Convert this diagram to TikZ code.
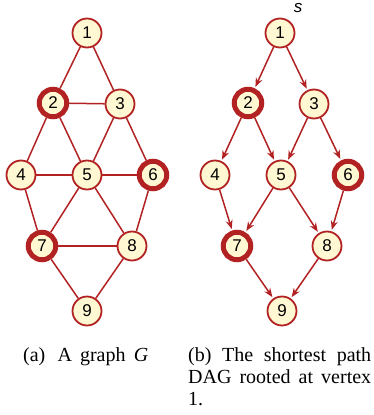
\documentclass[tikz,border=0pt]{standalone}
\usepackage{fontspec}
\setmainfont{Liberation Sans}
\newfontfamily\capfont{Liberation Serif}
\usetikzlibrary{arrows.meta}
\definecolor{ring}{RGB}{178,34,34}
\definecolor{cream}{RGB}{255,248,210}
\begin{document}
\begin{tikzpicture}[x=1pt,y=-1pt,
  vtx/.style={circle,draw=ring,fill=cream,line width=1.8pt,minimum size=29pt,inner sep=0pt,font=\fontsize{17}{17}\selectfont},
  bold/.style={vtx,line width=5pt,minimum size=27.5pt},
  edge/.style={draw=ring,line width=1.5pt},
  arc/.style={edge,-{Stealth[length=9pt,width=7pt]},shorten >=1.5pt},
  captext/.style={font=\capfont\fontsize{20}{22}\selectfont,inner sep=0pt,anchor=base west}]
\useasboundingbox (0,0) rectangle (373,415);
% left graph
\node[vtx]  (a1) at (87,33) {1};
\node[bold] (a2) at (53,103) {2};
\node[vtx]  (a3) at (120,104) {3};
\node[vtx]  (a4) at (21,175) {4};
\node[vtx]  (a5) at (87,175) {5};
\node[bold] (a6) at (153,175) {6};
\node[bold] (a7) at (42,246) {7};
\node[vtx]  (a8) at (132,246) {8};
\node[vtx]  (a9) at (87,311) {9};
\foreach \u/\v in {a1/a2,a1/a3,a2/a3,a2/a4,a2/a5,a3/a5,a3/a6,a4/a5,a5/a6,a4/a7,a5/a7,a5/a8,a6/a8,a7/a8,a7/a9,a8/a9}
  \draw[edge] (\u) -- (\v);
% right graph
\node[vtx]  (b1) at (280,33) {1};
\node[bold] (b2) at (248,103) {2};
\node[vtx]  (b3) at (314,104) {3};
\node[vtx]  (b4) at (215,175) {4};
\node[vtx]  (b5) at (281,175) {5};
\node[bold] (b6) at (348,175) {6};
\node[bold] (b7) at (237,246) {7};
\node[vtx]  (b8) at (327,246) {8};
\node[vtx]  (b9) at (282,311) {9};
\node[font=\fontsize{17}{17}\selectfont\itshape,inner sep=0pt] (s) at (298,8) {s};
\foreach \u/\v in {b1/b2,b1/b3,b2/b4,b2/b5,b3/b5,b3/b6,b4/b7,b5/b7,b5/b8,b6/b8,b7/b9,b8/b9}
  \draw[arc] (\u) -- (\v);
% captions
\node[captext] (ca) at (23,361) {\makebox[125pt][s]{(a)\hspace{4pt} A graph \textit{G}}};
\node[captext] (cb1) at (188,361) {\makebox[183pt][s]{(b) The shortest path}};
\node[captext] (cb2) at (188,383) {\makebox[183pt][s]{DAG rooted at vertex}};
\node[captext] (cb3) at (188,405) {1.};
\end{tikzpicture}
\end{document}
